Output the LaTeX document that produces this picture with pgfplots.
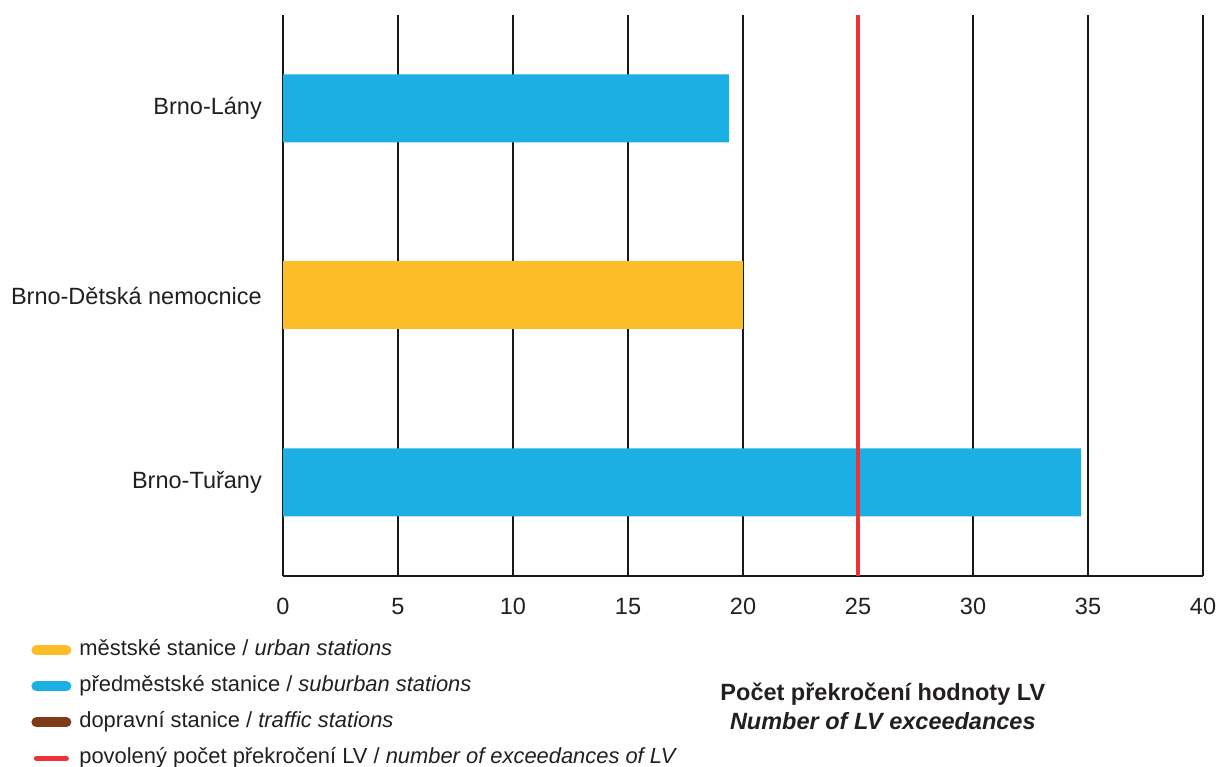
\documentclass[border=0pt]{standalone}
\usepackage{fontspec}
\setmainfont{Liberation Sans}
\usepackage{pgfplots}
\pgfplotsset{compat=1.18}
\definecolor{cblue}{RGB}{27,175,228}
\definecolor{cyellow}{RGB}{253,189,39}
\definecolor{cbrown}{RGB}{127,59,23}
\definecolor{cred}{RGB}{238,51,56}
\definecolor{ctext}{RGB}{35,31,32}
\begin{document}
\begin{tikzpicture}
\useasboundingbox (0,0) rectangle (1218bp,767bp);
\begin{axis}[
  at={(283bp,191bp)}, anchor=south west,
  scale only axis, width=920bp, height=561bp,
  xmin=0, xmax=40, ymin=-0.5, ymax=2.5,
  xbar, bar width=68bp, bar shift=0pt,
  xtick={0,5,...,40},
  ytick={0,1,2},
  yticklabels={Brno-Tuřany, Brno-Dětská nemocnice, Brno-Lány},
  xmajorgrids, grid style={black!90, line width=1.6bp},
  axis x line*=bottom, axis y line*=left,
  x axis line style={black!90, line width=1.6bp},
  y axis line style={draw=none},
  major tick length=0pt,
  tick style={draw=none},
  /pgf/number format/assume math mode=true,
  ticklabel style={font=\fontsize{23.5bp}{28bp}\selectfont, text=ctext},
  yticklabel style={inner sep=0pt, xshift=-21bp},
  xticklabel style={inner sep=0pt, yshift=-22bp},
  xlabel={Počet překročení hodnoty LV\\\textit{Number of LV exceedances}},
  xlabel style={at={(axis description cs:0.652,-0.2317)}, anchor=center, align=center,
    font=\bfseries\fontsize{23.5bp}{29bp}\selectfont, text=ctext},
  legend style={at={(axis description cs:-0.2737,-0.1135)}, anchor=north west,
    draw=none, fill=none, inner sep=0pt, row sep=15bp,
    font=\fontsize{21.9bp}{26bp}\selectfont, text=ctext,
    nodes={inner sep=0pt, text height=16bp, text depth=5bp},
    /tikz/every odd column/.append style={column sep=8bp}},
  legend cell align=left,
]
\addplot[fill=cblue, draw=none, forget plot] coordinates {(19.4,2) (34.7,0)};
\addplot[fill=cyellow, draw=none, forget plot] coordinates {(20,1)};
\addplot[cred, line width=4bp, sharp plot, forget plot] coordinates {(25,-0.5) (25,2.5)};
\addlegendimage{legend image code/.code={\draw[cyellow, line width=10bp, line cap=round] (0bp,0bp) -- (30bp,0bp);}}
\addlegendentry{městské stanice / \textit{urban stations}}
\addlegendimage{legend image code/.code={\draw[cblue, line width=10bp, line cap=round] (0bp,0bp) -- (30bp,0bp);}}
\addlegendentry{předměstské stanice / \textit{suburban stations}}
\addlegendimage{legend image code/.code={\draw[cbrown, line width=10bp, line cap=round] (0bp,0bp) -- (30bp,0bp);}}
\addlegendentry{dopravní stanice / \textit{traffic stations}}
\addlegendimage{legend image code/.code={\draw[cred, line width=5bp, line cap=round] (0bp,0bp) -- (30bp,0bp);}}
\addlegendentry{povolený počet překročení LV / \textit{number of exceedances of LV}}
\end{axis}
\end{tikzpicture}
\end{document}
